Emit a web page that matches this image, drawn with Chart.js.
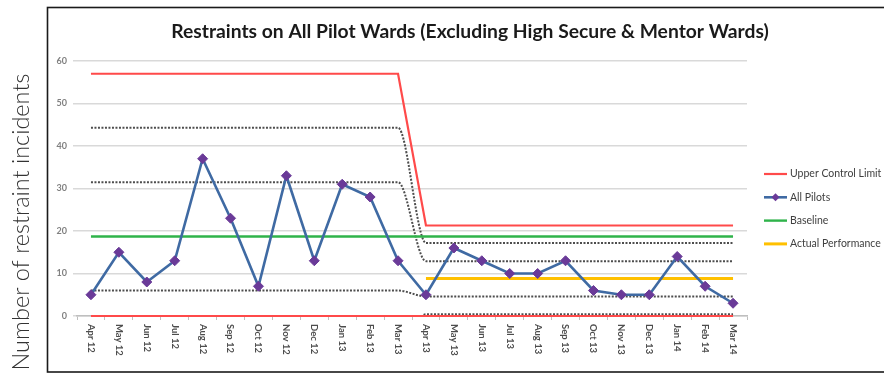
<!DOCTYPE html>
<html>
<head>
<meta charset="utf-8">
<script src="https://cdn.jsdelivr.net/npm/chart.js@4.4.1/dist/chart.umd.min.js"></script>
<style>
  html, body { margin: 0; padding: 0; background: #ffffff; }
  #wrap { position: relative; width: 884px; height: 374px; }
</style>
</head>
<body>
<div id="wrap"><canvas id="c" width="884" height="374"></canvas></div>
<script>
// Month categories (x axis)
const months = ['Apr 12','May 12','Jun 12','Jul 12','Aug 12','Sep 12','Oct 12','Nov 12','Dec 12','Jan 13','Feb 13','Mar 13',
                'Apr 13','May 13','Jun 13','Jul 13','Aug 13','Sep 13','Oct 13','Nov 13','Dec 13','Jan 14','Feb 14','Mar 14'];

// Monthly restraint incidents
const allPilots = [5,15,8,13,37,23,7,33,13,31,28,13, 5,16,13,10,10,13,6,5,5,14,7,3];

// Control limits (two phases: before / after Apr 13)
const upperControlLimit = [57,57,57,57,57,57,57,57,57,57,57,57, 21.3,21.3,21.3,21.3,21.3,21.3,21.3,21.3,21.3,21.3,21.3,21.3];
const lowerControlLimit = [0,0,0,0,0,0,0,0,0,0,0,0, 0,0,0,0,0,0,0,0,0,0,0,0];
const plusTwoSigma  = [44.3,44.3,44.3,44.3,44.3,44.3,44.3,44.3,44.3,44.3,44.3,44.3, 17.2,17.2,17.2,17.2,17.2,17.2,17.2,17.2,17.2,17.2,17.2,17.2];
const plusOneSigma  = [31.5,31.5,31.5,31.5,31.5,31.5,31.5,31.5,31.5,31.5,31.5,31.5, 12.9,12.9,12.9,12.9,12.9,12.9,12.9,12.9,12.9,12.9,12.9,12.9];
const minusOneSigma = [6.0,6.0,6.0,6.0,6.0,6.0,6.0,6.0,6.0,6.0,6.0,6.0, 4.6,4.6,4.6,4.6,4.6,4.6,4.6,4.6,4.6,4.6,4.6,4.6];
const minusTwoSigma = [-6.6,-6.6,-6.6,-6.6,-6.6,-6.6,-6.6,-6.6,-6.6,-6.6,-6.6,-6.6, 0.4,0.4,0.4,0.4,0.4,0.4,0.4,0.4,0.4,0.4,0.4,0.4];

// Baseline mean and post-change performance mean
const baseline = [18.7,18.7,18.7,18.7,18.7,18.7,18.7,18.7,18.7,18.7,18.7,18.7, 18.7,18.7,18.7,18.7,18.7,18.7,18.7,18.7,18.7,18.7,18.7,18.7];
const actualPerformance = [null,null,null,null,null,null,null,null,null,null,null,null, 8.8,8.8,8.8,8.8,8.8,8.8,8.8,8.8,8.8,8.8,8.8,8.8];

// Y axis ticks
const yTicks = [0,10,20,30,40,50,60];

const chartTitle = 'Restraints on All Pilot Wards (Excluding High Secure & Mentor Wards)';
const yAxisTitle = 'Number of restraint incidents';
const legendLabels = ['Upper Control Limit','All Pilots','Baseline','Actual Performance'];

const RED = '#ff4a4a', BLUE = '#3f6aa3', PURPLE = '#6a3a98', GREEN = '#2fb34a', GOLD = '#ffc000', DOT = '#4d4d4d';
const FONT = 'Lato, "Open Sans", "Liberation Sans", sans-serif';

function sigmaLine(label, data) {
  return { label, data, borderColor: DOT, borderWidth: 2, borderDash: [2, 1.5],
           pointRadius: 0, cubicInterpolationMode: 'monotone', fill: false, order: 5 };
}

const datasets = [
  { label: 'All Pilots', data: allPilots, borderColor: BLUE, borderWidth: 2.6,
    pointStyle: 'rectRot', pointRadius: 5, pointBackgroundColor: PURPLE, pointBorderColor: PURPLE,
    pointBorderWidth: 1, tension: 0, order: 0 },
  { label: 'Upper Control Limit', data: upperControlLimit, borderColor: RED, borderWidth: 2.2, pointRadius: 0, tension: 0, order: 2 },
  { label: 'Lower Control Limit', data: lowerControlLimit, borderColor: RED, borderWidth: 2.2, pointRadius: 0, tension: 0, order: 2, clip: false },
  { label: 'Baseline', data: baseline, borderColor: GREEN, borderWidth: 2.4, pointRadius: 0, tension: 0, order: 3 },
  { label: 'Actual Performance', data: actualPerformance, borderColor: GOLD, borderWidth: 3, pointRadius: 0, tension: 0, order: 1 },
  sigmaLine('+2 Sigma', plusTwoSigma),
  sigmaLine('+1 Sigma', plusOneSigma),
  sigmaLine('-1 Sigma', minusOneSigma),
  sigmaLine('-2 Sigma', minusTwoSigma)
];

// Frame, titles, rotated month labels and legend
const decorations = {
  id: 'decorations',
  beforeDraw(chart) {
    const ctx = chart.ctx;
    ctx.save();
    ctx.fillStyle = '#ffffff';
    ctx.fillRect(0, 0, chart.width, chart.height);
    ctx.strokeStyle = '#1a1a1a';
    ctx.lineWidth = 1.6;
    ctx.strokeRect(47.5, 7.5, 860, 364.5);
    ctx.restore();
  },
  afterDraw(chart) {
    const ctx = chart.ctx;
    const x = chart.scales.x;
    ctx.save();

    // chart title
    ctx.fillStyle = '#1a1a1a';
    ctx.font = 'bold 19.3px ' + FONT;
    ctx.textAlign = 'center';
    ctx.textBaseline = 'middle';
    ctx.fillText(chartTitle, 470, 32);

    // y axis title, outside the frame
    ctx.save();
    ctx.translate(21, 222);
    ctx.rotate(-Math.PI / 2);
    ctx.fillStyle = '#333333';
    ctx.font = '300 23.5px ' + FONT;
    ctx.fillText(yAxisTitle, 0, 0);
    ctx.restore();

    // month labels, reading top to bottom
    ctx.fillStyle = '#4d4d4d';
    ctx.font = 'bold 9.5px ' + FONT;
    ctx.textAlign = 'left';
    ctx.textBaseline = 'middle';
    months.forEach((m, i) => {
      const px = x.getPixelForValue(i);
      ctx.save();
      ctx.translate(px, x.top + 8);
      ctx.rotate(Math.PI / 2);
      ctx.fillText(m, 0, 0);
      ctx.restore();
    });

    // legend
    const ly0 = 174, lstep = 23.3, lx0 = 764, lx1 = 787;
    ctx.font = '10.5px ' + FONT;
    ctx.fillStyle = '#404040';
    legendLabels.forEach((lab, i) => {
      const ds = chart.data.datasets.find(d => d.label === lab);
      const y = ly0 + i * lstep;
      ctx.strokeStyle = ds.borderColor;
      ctx.lineWidth = ds.borderWidth;
      ctx.beginPath();
      ctx.moveTo(lx0, y);
      ctx.lineTo(lx1, y);
      ctx.stroke();
      if (ds.pointStyle === 'rectRot') {
        const cx = (lx0 + lx1) / 2, r = 4;
        ctx.fillStyle = ds.pointBackgroundColor;
        ctx.beginPath();
        ctx.moveTo(cx, y - r); ctx.lineTo(cx + r, y); ctx.lineTo(cx, y + r); ctx.lineTo(cx - r, y);
        ctx.closePath();
        ctx.fill();
        ctx.fillStyle = '#404040';
      }
      ctx.textAlign = 'left';
      ctx.fillText(lab, lx1 + 3, y);
    });
    ctx.restore();
  }
};

new Chart(document.getElementById('c'), {
  type: 'line',
  data: { labels: months, datasets },
  options: {
    responsive: false,
    animation: false,
    devicePixelRatio: 1,
    layout: { padding: { top: 61, right: 137, bottom: 2, left: 0 } },
    plugins: { legend: { display: false }, title: { display: false }, tooltip: { enabled: false } },
    scales: {
      x: {
        type: 'category',
        offset: true,
        afterFit(s) { s.height = 56; },
        grid: { offset: true, drawOnChartArea: false, drawTicks: true, tickLength: 4, color: '#bfbfbf', lineWidth: 1 },
        border: { display: true, color: '#bfbfbf', width: 1.5 },
        ticks: { display: false }
      },
      y: {
        min: 0, max: 60,
        afterFit(s) { s.width = 77; },
        afterBuildTicks(s) { s.ticks = yTicks.map(v => ({ value: v })); },
        grid: { color: '#d9d9d9', lineWidth: 1.5, drawTicks: true, tickLength: 4 },
        border: { display: false },
        ticks: { color: '#808080', font: { family: FONT, size: 9, weight: 'bold' }, padding: 6 }
      }
    }
  },
  plugins: [decorations]
});
</script>
</body>
</html>
